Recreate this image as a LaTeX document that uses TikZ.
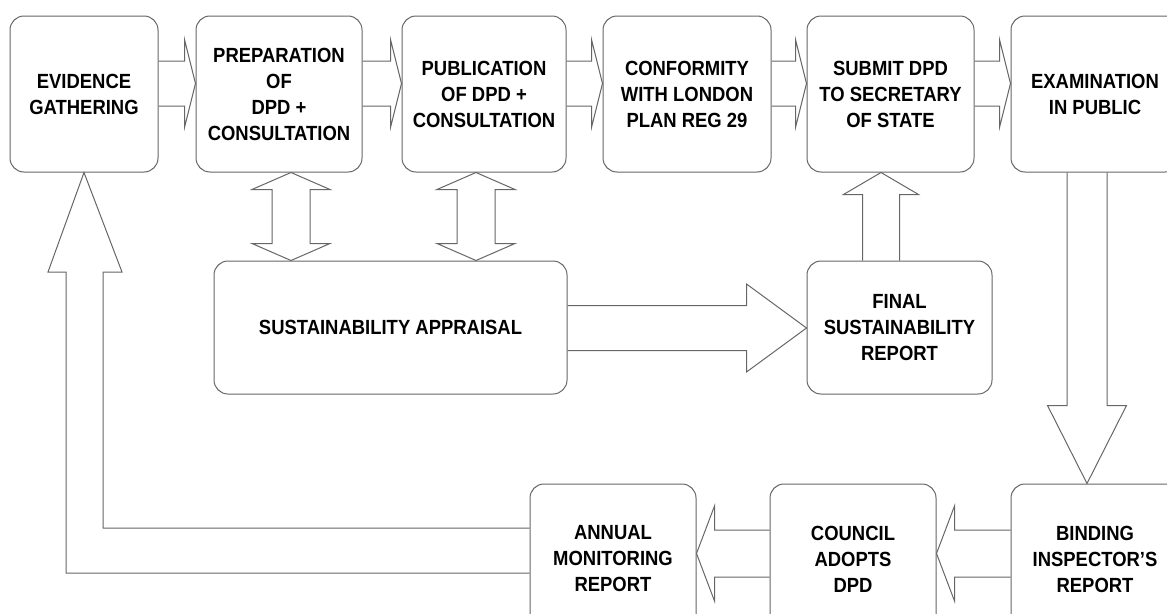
\documentclass[tikz,border=0pt]{standalone}
\usepackage{fontspec}
\setmainfont{Liberation Sans}[FakeStretch=0.9]
\usetikzlibrary{calc}
\tikzset{box/.style={draw=black!60, line width=1pt, rounded corners=14pt, align=center, inner sep=0pt, font=\bfseries\fontsize{20.5}{26}\selectfont},
  blkline/.style={draw=black!60, line width=1pt}}
% hollow block arrow: from, to, half shaft, half head, head length
\newcommand\blk[5]{\coordinate (hb) at ($(#2)!#5!(#1)$);
\draw[blkline] ($(#1)!#3!90:(#2)$) -- ($(hb)!#3!-90:(#1)$) -- ($(hb)!#4!-90:(#1)$) -- (#2) -- ($(hb)!#4!90:(#1)$) -- ($(hb)!#3!90:(#1)$) -- ($(#1)!#3!-90:(#2)$);}
% hollow double block arrow
\newcommand\dblk[5]{\coordinate (ha) at ($(#1)!#5!(#2)$); \coordinate (hb) at ($(#2)!#5!(#1)$);
\draw[blkline] (#1) -- ($(ha)!#4!90:(#2)$) -- ($(ha)!#3!90:(#2)$) -- ($(hb)!#3!-90:(#1)$) -- ($(hb)!#4!-90:(#1)$) -- (#2) -- ($(hb)!#4!90:(#1)$) -- ($(hb)!#3!90:(#1)$) -- ($(ha)!#3!-90:(#2)$) -- ($(ha)!#4!-90:(#2)$) -- cycle;}
\begin{document}
\begin{tikzpicture}[x=1pt,y=-1pt]
\useasboundingbox (0,0) rectangle (1167,613);
\clip (0,0) rectangle (1167,613);
% top row
\node[box, minimum width=148pt, minimum height=156pt] (ev) at (84,94) {EVIDENCE\\GATHERING};
\node[box, minimum width=166pt, minimum height=156pt] (prep) at (279,94) {PREPARATION\\OF\\DPD +\\CONSULTATION};
\node[box, minimum width=164pt, minimum height=156pt] (pub) at (484,94) {PUBLICATION\\OF DPD +\\CONSULTATION};
\node[box, minimum width=168pt, minimum height=156pt] (conf) at (687,94) {CONFORMITY\\WITH LONDON\\PLAN REG 29};
\node[box, minimum width=167pt, minimum height=156pt] (sub) at (890.5,94) {SUBMIT DPD\\TO SECRETARY\\OF STATE};
\node[box, minimum width=168pt, minimum height=156pt] (exam) at (1095,94) {EXAMINATION\\IN PUBLIC};
% middle row
\node[box, minimum width=353pt, minimum height=133pt] (sa) at (390.5,327.5) {SUSTAINABILITY APPRAISAL};
\node[box, minimum width=185pt, minimum height=133pt] (fsr) at (899.5,327.5) {FINAL\\SUSTAINABILITY\\REPORT};
% bottom row
\node[box, minimum width=166pt, minimum height=150pt] (amr) at (613,559) {ANNUAL\\MONITORING\\REPORT};
\node[box, minimum width=166pt, minimum height=150pt] (cad) at (853,559) {COUNCIL\\ADOPTS\\DPD};
\node[box, minimum width=168pt, minimum height=150pt] (bir) at (1095,559) {BINDING\\INSPECTOR’S\\REPORT};
\coordinate (toprow) at (0,83.5);
\coordinate (botrow) at (0,553.5);
\coordinate (colA) at (291,0);
\coordinate (colB) at (476,0);
\coordinate (colC) at (881,0);
\coordinate (colD) at (1087,0);
% arrows along the top
\blk{ev.east |- toprow}{prep.west |- toprow}{22.5pt}{44pt}{11pt}
\blk{prep.east |- toprow}{pub.west |- toprow}{22.5pt}{44pt}{11pt}
\blk{pub.east |- toprow}{conf.west |- toprow}{22.5pt}{44pt}{11pt}
\blk{conf.east |- toprow}{sub.west |- toprow}{22.5pt}{44pt}{11pt}
\blk{sub.east |- toprow}{exam.west |- toprow}{22.5pt}{44pt}{11pt}
% appraisal
\dblk{prep.south -| colA}{sa.north -| colA}{19pt}{39pt}{17pt}
\dblk{pub.south -| colB}{sa.north -| colB}{19pt}{39pt}{17pt}
\blk{sa.east |- 0,328}{fsr.west |- 0,328}{22.5pt}{44pt}{60pt}
\blk{fsr.north -| colC}{sub.south -| colC}{18.5pt}{37.5pt}{22pt}
\blk{exam.south -| colD}{bir.north -| colD}{20pt}{39.5pt}{78pt}
% bottom row
\blk{bir.west |- botrow}{cad.east |- botrow}{23.5pt}{47.5pt}{18pt}
\blk{cad.west |- botrow}{amr.east |- botrow}{23.5pt}{47.5pt}{18pt}
% back to the start
\draw[blkline] (amr.west |- 0,528) -- (103,528) -- (103,272) -- (122,272) -- (ev.south) -- (48,272) -- (66,272) -- (66,573) -- (amr.west |- 0,573);
\end{tikzpicture}
\end{document}
